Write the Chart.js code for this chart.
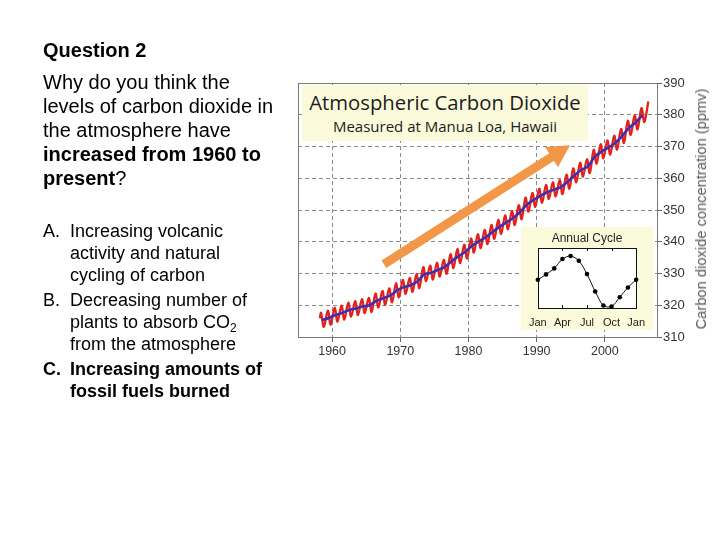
<!DOCTYPE html>
<html>
<head>
<meta charset="utf-8">
<script src="https://cdn.jsdelivr.net/npm/chart.js@4.4.1/dist/chart.umd.min.js"></script>
<style>
html,body{margin:0;padding:0;background:#fff;}
#page{position:relative;width:720px;height:540px;overflow:hidden;font-family:"Liberation Sans",Arial,sans-serif;color:#000;}
#mainCanvas{position:absolute;left:0;top:0;}
.txt{position:absolute;white-space:nowrap;}
#q{left:43px;top:38px;font-size:20px;line-height:24px;font-weight:bold;}
#prompt{left:43px;top:70px;font-size:20px;line-height:24px;}
#opts{left:43px;top:220px;font-size:18px;line-height:22px;}
.opt{position:relative;padding-left:27px;margin-bottom:3px;}
.opt .l{position:absolute;left:0;top:0;}
.b{font-weight:bold;}
sub{font-size:12px;line-height:0;vertical-align:-4px;}
#titleBox{position:absolute;left:302px;top:85px;width:286px;height:56px;background:#fbfbdc;text-align:center;color:#1c1c1c;font-family:"Open Sans",sans-serif;}
#t1{position:absolute;left:0;right:0;top:4px;font-size:20.3px;line-height:27px;white-space:nowrap;}
#t2{position:absolute;left:0;right:0;top:31px;font-size:15px;line-height:20px;white-space:nowrap;}
#ytitle{position:absolute;left:701px;top:209px;transform:translate(-50%,-50%) rotate(-90deg);font-size:14.7px;color:#5a5a5a;white-space:nowrap;}
#inset{position:absolute;left:521px;top:227px;width:132px;height:103px;background:#fbfbdc;}
#insetCanvas{position:absolute;left:0;top:0;}
#insetTitle{position:absolute;left:0;right:0;top:5px;text-align:center;font-size:12px;line-height:13px;color:#222;white-space:nowrap;}
</style>
</head>
<body>
<div id="page">
  <canvas id="mainCanvas" width="720" height="540"></canvas>

  <div id="q" class="txt">Question 2</div>
  <div id="prompt" class="txt">Why do you think the<br>levels of carbon dioxide in<br>the atmosphere have<br><span class="b">increased from 1960 to<br>present</span>?</div>
  <div id="opts" class="txt">
    <div class="opt"><span class="l">A.</span>Increasing volcanic<br>activity and natural<br>cycling of carbon</div>
    <div class="opt"><span class="l">B.</span>Decreasing number of<br>plants to absorb CO<sub>2</sub><br>from the atmosphere</div>
    <div class="opt b"><span class="l">C.</span>Increasing amounts of<br>fossil fuels burned</div>
  </div>

  <div id="titleBox">
    <div id="t1">Atmospheric Carbon Dioxide</div>
    <div id="t2">Measured at Manua Loa, Hawaii</div>
  </div>

  <div id="ytitle">Carbon dioxide concentration (ppmv)</div>

  <div id="inset">
    <canvas id="insetCanvas" width="132" height="103"></canvas>
    <div id="insetTitle">Annual Cycle</div>
  </div>
</div>

<script>
// ---------------- DATA ----------------
const years = [1958,1959,1960,1961,1962,1963,1964,1965,1966,1967,
               1968,1969,1970,1971,1972,1973,1974,1975,1976,1977,
               1978,1979,1980,1981,1982,1983,1984,1985,1986,1987,
               1988,1989,1990,1991,1992,1993,1994,1995,1996,1997,
               1998,1999,2000,2001,2002,2003,2004,2005,2006];
// seasonal maximum (May) each year, ppmv
const mayPeak = [317.6,318.3,319.2,319.9,320.8,321.3,321.9,322.3,323.7,324.5,
                 325.3,326.9,328.0,328.6,329.8,332.0,332.5,333.4,334.3,336.1,
                 337.7,339.1,341.0,342.4,343.7,345.3,346.9,348.3,349.7,351.5,
                 353.9,355.4,356.7,357.9,358.7,359.4,361.1,363.1,364.9,366.0,
                 369.0,370.7,371.9,373.4,375.5,378.1,379.8,382.1,384.2];
// seasonal minimum (October) each year 1958-2005, ppmv
const octLow = [313.2,313.9,314.8,315.5,316.4,316.9,317.5,317.9,319.3,320.1,
                320.9,322.5,323.6,324.2,325.4,327.6,328.1,329.0,329.9,331.7,
                333.3,334.7,336.6,338.0,339.3,340.9,342.5,343.9,345.3,347.1,
                349.5,351.0,352.3,353.5,354.3,355.0,356.7,358.7,360.5,361.6,
                364.6,366.3,367.5,369.0,371.1,373.7,375.4,377.7];
// first record: [month, ppmv] of March 1958
const firstRecord = [3, 315.9];
const peakMonth = 5, lowMonth = 10;
// smoothed trend (annual means 1958-2005), ppmv
const trendMeans = [315.3,316.0,316.9,317.6,318.5,319.0,319.6,320.0,321.4,322.2,
                    323.0,324.6,325.7,326.3,327.5,329.7,330.2,331.1,332.0,333.8,
                    335.4,336.8,338.7,340.1,341.4,343.0,344.6,346.0,347.4,349.2,
                    351.6,353.1,354.4,355.6,356.4,357.1,358.8,360.8,362.6,363.7,
                    366.7,368.4,369.6,371.1,373.2,375.8,377.5,379.8];
const xTickYears = [1960,1970,1980,1990,2000];
const yTickValues = [310,320,330,340,350,360,370,380,390];
const xRange = [1955, 2007.65];
const yRange = [310, 390];
// arrow annotation in data units [year, ppmv]
const arrowTail = [1967.6, 332.9];
const arrowHead = [1994.9, 370.4];

// Annual cycle inset
const cycleMonths = ['Jan','Feb','Mar','Apr','May','Jun','Jul','Aug','Sep','Oct','Nov','Dec','Jan'];
const cycleValues = [-0.23,0.48,1.28,2.53,2.93,2.31,0.52,-1.79,-3.67,-3.80,-2.56,-1.26,-0.23];
const cycleRange = [-4, 4];

// ---------------- BUILD ----------------
const FONT = '"Liberation Sans", Arial, sans-serif';
Chart.defaults.font.family = FONT;

const monthToYear = (y, m) => y + (m - 0.5) / 12;
const monthlyPts = [{x: monthToYear(years[0], firstRecord[0]), y: firstRecord[1]}];
years.forEach((yr, i) => {
  monthlyPts.push({x: monthToYear(yr, peakMonth), y: mayPeak[i]});
  if (i < octLow.length) monthlyPts.push({x: monthToYear(yr, lowMonth), y: octLow[i]});
});
const trendPts = trendMeans.map((v, i) => ({x: years[i] + 0.5, y: v}));

const frameAndArrow = {
  id: 'frameAndArrow',
  afterDatasetsDraw(chart) {
    const {ctx, chartArea: a, scales: {x, y}} = chart;
    ctx.save();
    ctx.strokeStyle = '#7a7a7a';
    ctx.lineWidth = 1;
    ctx.setLineDash([]);
    ctx.strokeRect(Math.round(a.left) + 0.5, Math.round(a.top) + 0.5,
                   Math.round(a.right - a.left), Math.round(a.bottom - a.top));
    const x0 = x.getPixelForValue(arrowTail[0]), y0 = y.getPixelForValue(arrowTail[1]);
    const x1 = x.getPixelForValue(arrowHead[0]), y1 = y.getPixelForValue(arrowHead[1]);
    const ang = Math.atan2(y1 - y0, x1 - x0);
    const headLen = 22, headW = 12;
    const bx = x1 - headLen * Math.cos(ang), by = y1 - headLen * Math.sin(ang);
    const col = '#f29748';
    ctx.strokeStyle = col; ctx.fillStyle = col;
    ctx.lineWidth = 9; ctx.lineCap = 'butt';
    ctx.beginPath(); ctx.moveTo(x0, y0); ctx.lineTo(bx + 2 * Math.cos(ang), by + 2 * Math.sin(ang)); ctx.stroke();
    ctx.beginPath();
    ctx.moveTo(x1, y1);
    ctx.lineTo(bx + headW * Math.sin(ang), by - headW * Math.cos(ang));
    ctx.lineTo(bx - headW * Math.sin(ang), by + headW * Math.cos(ang));
    ctx.closePath(); ctx.fill();
    ctx.restore();
  }
};

const gridOpts = {color: '#8a8a8a', lineWidth: 1, drawTicks: true, tickLength: 5, tickColor: '#666', tickWidth: 1};
const borderOpts = {display: true, color: '#7a7a7a', dash: [4, 3]};

new Chart(document.getElementById('mainCanvas'), {
  type: 'line',
  data: {
    datasets: [
      {label: 'Trend', data: trendPts, borderColor: '#3d2fae', borderWidth: 2.6, pointRadius: 0, tension: 0.25, order: 0},
      {label: 'Monthly', data: monthlyPts, borderColor: '#e3221c', borderWidth: 2.3, pointRadius: 0, tension: 0.35, order: 1}
    ]
  },
  options: {
    responsive: false, animation: false, devicePixelRatio: 1,
    layout: {padding: {left: 298, top: 83, right: 23, bottom: 178}},
    plugins: {legend: {display: false}, tooltip: {enabled: false}},
    scales: {
      x: {
        type: 'linear', min: xRange[0], max: xRange[1],
        afterBuildTicks: s => { s.ticks = xTickYears.map(v => ({value: v})); },
        afterFit: s => { s.height = 25; },
        grid: gridOpts, border: borderOpts,
        ticks: {callback: v => String(v), color: '#333', font: {size: 12.5}, padding: 2, maxRotation: 0, autoSkip: false}
      },
      y: {
        position: 'right', min: yRange[0], max: yRange[1],
        afterBuildTicks: s => { s.ticks = yTickValues.map(v => ({value: v})); },
        afterFit: s => { s.width = 40; },
        grid: gridOpts, border: borderOpts,
        ticks: {callback: v => String(v), color: '#333', font: {size: 13}, padding: 1, autoSkip: false}
      }
    }
  },
  plugins: [frameAndArrow]
});

const insetFrame = {
  id: 'insetFrame',
  beforeDatasetsDraw(chart) {
    const {ctx, chartArea: a, scales: {x}} = chart;
    ctx.save();
    ctx.fillStyle = '#ffffff';
    ctx.fillRect(a.left, a.top, a.right - a.left, a.bottom - a.top);
    ctx.strokeStyle = '#111'; ctx.lineWidth = 1;
    ctx.strokeRect(Math.round(a.left) + 0.5, Math.round(a.top) + 0.5,
                   Math.round(a.right - a.left), Math.round(a.bottom - a.top));
    ctx.beginPath();
    cycleMonths.forEach((m, i) => {
      if (i % 3 !== 0 || i === 0 || i === cycleMonths.length - 1) return;
      const px = Math.round(x.getPixelForValue(i)) + 0.5;
      ctx.moveTo(px, a.bottom); ctx.lineTo(px, a.bottom - 3);
      ctx.moveTo(px, a.top); ctx.lineTo(px, a.top + 3);
    });
    ctx.stroke();
    ctx.restore();
  }
};

new Chart(document.getElementById('insetCanvas'), {
  type: 'line',
  data: {
    labels: cycleMonths,
    datasets: [{data: cycleValues, borderColor: '#111', borderWidth: 1, pointRadius: 2.3,
                pointBackgroundColor: '#000', pointBorderWidth: 0, tension: 0.3, clip: false}]
  },
  options: {
    responsive: false, animation: false, devicePixelRatio: 1,
    layout: {padding: {left: 13, right: 13, top: 21, bottom: 0}},
    plugins: {legend: {display: false}, tooltip: {enabled: false}},
    scales: {
      x: {
        grid: {display: false, drawTicks: false}, border: {display: false},
        afterFit: s => { s.height = 22; },
        ticks: {autoSkip: false, maxRotation: 0, padding: 8, color: '#222', font: {size: 11},
                callback: (v, i) => (i % 3 === 0 ? cycleMonths[i] : '')}
      },
      y: {display: false, min: cycleRange[0], max: cycleRange[1]}
    }
  },
  plugins: [insetFrame]
});
</script>
</body>
</html>
